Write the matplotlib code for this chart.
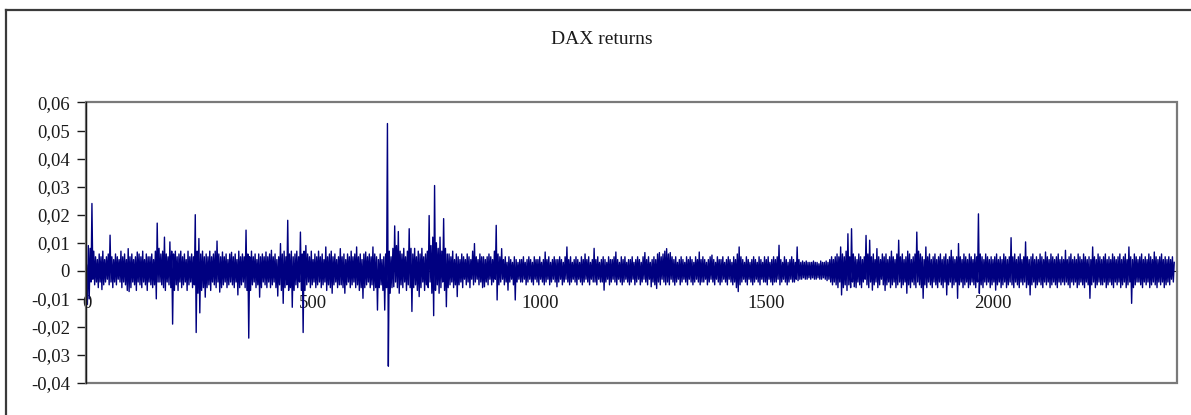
import numpy as np
import matplotlib
matplotlib.use("Agg")
import matplotlib.pyplot as plt
from matplotlib.lines import Line2D
from matplotlib.patches import Rectangle
from matplotlib.ticker import FixedLocator, FuncFormatter

# ---- data (returns in thousandths) ----
# the series alternates between a local high and a local low, one value every 2 observations
title = "DAX returns"
obs_step = 2
highs_milli = [
    2, 9, 8, 24, 7, 5, 4, 6, 5, 7, 4, 5, 6, 12.7, 5, 4, 6, 5, 4, 7,            # 0-76
    5, 6, 4, 7.9, 5, 6, 4, 5, 6.7, 6, 5, 7, 4, 6, 5, 5, 6, 4, 7, 17,           # 80-156
    8, 6, 7, 12, 6, 5, 10.3, 7, 6, 7, 5, 6, 7, 5, 6, 4, 7, 5, 6, 5,            # 160-236
    20, 7, 11.5, 6, 7, 5, 6, 5, 7, 5, 6, 7, 10.6, 6, 5, 6.7, 5, 6, 4, 6,       # 240-316
    6.6, 5, 6, 4, 7, 5, 6, 5, 14.5, 6, 5, 7, 5, 6, 4, 6, 5, 6, 5, 6.7,         # 320-396
    5, 6, 7.3, 5, 6, 4, 5, 9.7, 6, 7, 5, 18, 6, 7, 5, 6, 7, 5, 13.8, 6,        # 400-476
    7, 9, 6, 5, 7, 4, 6, 5, 7, 5, 6, 4, 8.5, 5, 6, 7, 5, 6, 4, 5,              # 480-556
    7.9, 5, 6, 4, 6, 5, 7, 5, 6, 8.5, 5, 6, 4, 6, 6.7, 5, 6, 5, 8.5, 6,        # 560-636
    5, 4, 6, 4, 5, 6, 52.5, 7, 5, 8, 16, 9, 14, 7, 6, 8, 5, 7, 15, 8,          # 640-716
    6, 8, 5, 7, 6, 8, 5, 6, 7, 19.7, 9, 12, 30.4, 10, 8, 12, 7, 18.6, 8, 6,    # 720-796
    6, 5, 7, 4, 6, 5, 4, 6, 5, 4, 6, 5, 4, 7, 9.7, 5, 4, 6, 5, 5,              # 800-876
    4, 5, 6, 5, 4, 7, 16.2, 6, 5, 7.9, 4, 5, 3, 5, 4, 3, 5, 4, 3, 4,           # 880-956
    4, 5, 3, 4, 5, 4, 3, 5, 4, 4, 5, 3, 4, 6.7, 4, 5, 3, 4, 5, 4,              # 960-1036
    4, 5, 4, 3, 5, 8.5, 4, 5, 3, 4, 5, 4, 3, 5, 4, 6, 4, 5, 3, 4,              # 1040-1116
    8, 4, 5, 3, 4, 5, 4, 3, 5, 4, 4, 5, 6.7, 4, 3, 5, 4, 5, 3, 4,              # 1120-1196
    4, 5, 3, 4, 5, 4, 3, 5, 6.5, 4, 5, 3, 4, 5, 4, 6, 6.5, 5, 6, 7,            # 1200-1276
    7.9, 6, 6.5, 5, 4, 5, 3, 4, 5, 4, 3, 5, 4, 5, 4, 3, 5, 4, 6.7, 4,          # 1280-1356
    5, 4, 3, 4, 5, 5.6, 4, 3, 5, 4, 4, 5, 3, 4, 5, 4, 3, 5, 4, 6,              # 1360-1436
    8.5, 5, 4, 3, 5, 4, 3, 4, 5, 4, 3, 5, 4, 3, 5, 4, 5, 3, 4, 5,              # 1440-1516
    4, 5, 9.1, 4, 3, 5, 4, 3, 4, 5, 4, 3, 8.5, 4, 3, 3.5, 3, 3.5, 3, 3,        # 1520-1596
    3, 3.5, 3, 3, 2.5, 3.5, 3, 3, 3.5, 3, 4, 5, 4, 5, 6, 5, 8.5, 6, 5, 7,      # 1600-1676
    13.2, 5, 15, 6, 5, 4, 6, 5, 4, 5, 12.6, 6, 10.9, 5, 6, 4, 7.9, 5, 4, 6,    # 1680-1756
    5, 6, 4, 5, 7, 5, 4, 6, 10.9, 5, 6, 4, 5, 7, 6, 4, 5, 6, 13.8, 7,          # 1760-1836
    6, 5, 4, 8.5, 5, 6, 4, 5, 6, 4, 5, 6, 4, 5, 6, 4, 5, 7.3, 5, 4,            # 1840-1916
    5, 9.7, 5, 4, 6, 5, 4, 6, 5, 4, 6, 5, 20.3, 6, 5, 4, 6, 5, 4, 5,           # 1920-1996
    4, 5, 6, 4, 5, 4, 6, 5, 4, 5, 11.8, 5, 6, 4, 5, 6, 4, 5, 10.3, 5,          # 2000-2076
    4, 5, 6, 4, 5, 4, 6, 5, 4, 6.7, 5, 4, 6, 5, 4, 5, 6, 4, 5, 4,              # 2080-2156
    7.3, 4, 5, 6, 4, 5, 4, 6, 5, 4, 6, 5, 4, 5, 4, 8.5, 5, 4, 6, 5,            # 2160-2236
    4, 5, 6, 4, 5, 4, 6, 5, 4, 5, 6, 4, 5, 6, 4, 8.5, 5, 4, 6, 5,              # 2240-2316
    4, 5, 6, 4, 5, 4, 6, 5, 4, 6.7, 5, 4, 5, 6, 4, 5, 4, 5, 4, 5,              # 2320-2396
    3,                                                                          # 2400
]
lows_milli = [
    -12, -10, -4, -3, -5, -4, -6, -4, -6.7, -5, -4, -3, -5, -4, -6, -4, -5, -3, -4, -6,        # 2-78
    -4, -5, -7, -7.4, -6, -4, -5, -7, -4, -5, -6, -4, -5, -7, -4, -5, -6, -5, -10, -4,         # 82-158
    -4, -5, -6, -7, -4, -5, -6, -19, -7, -5, -7, -4, -6, -5, -4, -7, -5, -4, -6, -5,           # 162-238
    -22, -8, -15, -7, -6, -9.4, -6, -5, -7, -4, -5, -6, -4, -7.6, -6, -5, -4, -6, -5, -4,      # 242-318
    -5, -6, -4, -8.6, -6, -5, -4, -6, -7, -24, -7, -5, -4, -6, -5, -9.4, -6, -4, -5, -6,       # 322-398
    -4, -6, -5, -4, -6, -9, -5, -7, -11.6, -6, -5, -7, -6, -13, -7, -5, -6, -4, -7, -22,       # 402-478
    -7, -5, -4, -6, -5, -4, -6, -5, -4, -6, -5, -4, -7, -5, -6, -8, -5, -4, -6, -5,            # 482-558
    -5, -6, -8, -5, -4, -6, -5, -4, -6, -5, -7, -6, -9.8, -6, -5, -4, -6, -5, -7, -6,          # 562-638
    -14, -6, -5, -7, -14, -6, -34, -8, -6, -5.7, -4, -6, -8, -5, -6, -4, -7, -5, -6, -14.5,    # 642-718
    -6, -5, -7, -9.2, -6, -4, -7, -5, -6, -4, -8, -16, -7, -5, -8, -6, -4, -7, -12.8, -6,      # 722-798
    -5, -4, -6, -5, -9.2, -5, -4, -6, -3, -5, -4, -6, -3, -5, -4, -3, -5, -4, -6, -5.7,        # 802-878
    -4, -5, -3, -5, -4, -3, -10.4, -5, -4, -3, -5, -4, -6.9, -4, -3, -5, -10.4, -4, -3, -4,    # 882-958
    -4, -3, -5, -4, -3, -4, -5, -3, -4, -5, -3, -4, -5, -4, -3, -5, -4, -3, -4, -5.7,          # 962-1038
    -4, -3, -5, -4, -3, -4, -5, -4, -3, -4, -5, -3, -4, -5, -4, -3, -4, -5, -3, -4,            # 1042-1118
    -4, -5, -3, -4, -4, -6.9, -4, -3, -5, -4, -3, -4, -5, -3, -4, -5, -4, -3, -4, -5,          # 1122-1198
    -4, -3, -5, -4, -3, -5, -4, -3, -4, -5, -3, -5.7, -4, -5, -6.3, -4, -5, -3, -4, -5,        # 1202-1278
    -4, -5, -3, -4, -5.1, -4, -3, -5, -4, -3, -4, -5, -3, -4, -5, -4, -3, -4, -5, -4,          # 1282-1358
    -4, -3, -5, -4, -3, -4, -5, -3, -4, -5, -4, -3, -4, -5, -3, -4, -5, -4, -6, -7.4,          # 1362-1438
    -5, -4, -3, -4, -5, -3, -4, -5, -4, -3, -4, -5, -3, -4, -4, -5, -3, -4, -5, -4,            # 1442-1518
    -4, -3, -5, -4, -3, -4, -5, -4, -3, -4, -4, -3, -3.5, -3, -3, -2.5, -3, -3, -2.5, -3,      # 1522-1598
    -2.5, -3, -3, -2.5, -3, -3, -2.5, -3, -3.5, -3, -4, -5, -4, -5, -6, -4, -8.6, -6, -5, -7,  # 1602-1678
    -5, -6, -4, -5.7, -6, -4, -5, -6, -4, -3, -5, -6, -4, -6.9, -5, -4, -6, -5, -3, -5,        # 1682-1758
    -7, -5, -4, -6, -5, -4, -6, -5, -4, -6, -5, -4, -8, -5, -6, -4, -5, -6, -4, -5,            # 1762-1838
    -6, -9.8, -5, -6, -4, -5, -6, -4, -5, -6, -4, -5, -6, -4, -8.6, -5, -4, -6, -5, -4,        # 1842-1918
    -9.8, -5, -4, -6, -5, -4, -6, -5, -4, -5, -6, -4, -8, -5, -6, -4, -5, -4, -6, -5,          # 1922-1998
    -4, -6.9, -5, -4, -6, -5, -4, -6, -5, -4, -5, -6, -4, -5, -6, -4, -5, -4, -6, -5,          # 2002-2078
    -8.6, -5, -4, -6, -5, -4, -5, -6, -4, -5, -4, -6, -5, -4, -5, -6, -4, -5, -4, -5,          # 2082-2158
    -4, -5, -6, -4, -5, -4, -6, -5, -4, -5, -6, -4, -5, -9.8, -5, -4, -6, -5, -4, -5,          # 2162-2238
    -5, -4, -6, -5, -4, -5, -6, -4, -5, -4, -6, -5, -4, -6, -5, -4, -11.6, -6, -5, -4,         # 2242-2318
    -4, -5, -6, -4, -5, -4, -6, -5, -4, -5, -6, -4, -5, -4, -6, -5, -4, -5, -3, -4,            # 2322-2398
]
x_ticks = [0, 500, 1000, 1500, 2000]
y_ticks = [-0.04, -0.03, -0.02, -0.01, 0.0, 0.01, 0.02, 0.03, 0.04, 0.05, 0.06]

# interleave highs and lows into one series
series = []
for i, h in enumerate(highs_milli):
    series.append(h)
    if i < len(lows_milli):
        series.append(lows_milli[i])
returns = np.array(series, dtype=float) / 1000.0
obs = np.arange(len(returns)) * obs_step

W, H = 1191, 415
fig = plt.figure(figsize=(W / 100, H / 100), dpi=100)
fig.patch.set_facecolor("white")

serif = ["Liberation Serif", "DejaVu Serif"]

# outer chart border (left and top visible)
fig.add_artist(Line2D([6 / W, 6 / W], [0, 1 - 10 / H], transform=fig.transFigure,
                      color="#3a3a3a", lw=1.6))
fig.add_artist(Line2D([6 / W, 1], [1 - 10 / H, 1 - 10 / H], transform=fig.transFigure,
                      color="#3a3a3a", lw=1.6))

left, right, top, bottom = 86.5, 1176.5, 102.5, 383
ax = fig.add_axes([left / W, 1 - bottom / H, (right - left) / W, (bottom - top) / H])

ax.plot(obs, returns, color="#000080", lw=1.0, zorder=3)

ax.set_xlim(0, 2405)
ax.set_ylim(-0.04, 0.06)

# plot-area border
ax.add_patch(Rectangle((0, 0), 1, 1, transform=ax.transAxes, fill=False,
                       edgecolor="#7a7a7a", lw=1.6, clip_on=False, zorder=5))

for s in ["top", "right"]:
    ax.spines[s].set_visible(False)
ax.spines["left"].set_color("#1a1a1a")
ax.spines["left"].set_linewidth(1.0)
ax.spines["left"].set_zorder(6)
ax.spines["bottom"].set_position(("data", 0))
ax.spines["bottom"].set_color("#1a1a1a")
ax.spines["bottom"].set_linewidth(0.8)
ax.spines["bottom"].set_zorder(2)

ax.yaxis.set_major_locator(FixedLocator(y_ticks))


def yfmt(v, pos):
    if abs(v) < 1e-12:
        return "0"
    return f"{v:.2f}".replace(".", ",")


ax.yaxis.set_major_formatter(FuncFormatter(yfmt))
ax.set_xticks(x_ticks)
ax.set_xticklabels([str(t) for t in x_ticks])

ax.tick_params(axis="y", direction="out", length=6.5, width=1.0, color="#1a1a1a",
               pad=5.5, labelsize=13.5, labelcolor="#1a1a1a")
ax.tick_params(axis="x", direction="inout", length=4, width=0.8, color="#1a1a1a",
               pad=15.5, labelsize=13.5, labelcolor="#1a1a1a")
for lab in ax.get_xticklabels() + ax.get_yticklabels():
    lab.set_family(serif)

fig.text(602 / W, 1 - 39 / H, title, ha="center", va="center", fontsize=14,
         family=serif, color="#1a1a1a")

fig.savefig("out.png", dpi=100, facecolor="white")
